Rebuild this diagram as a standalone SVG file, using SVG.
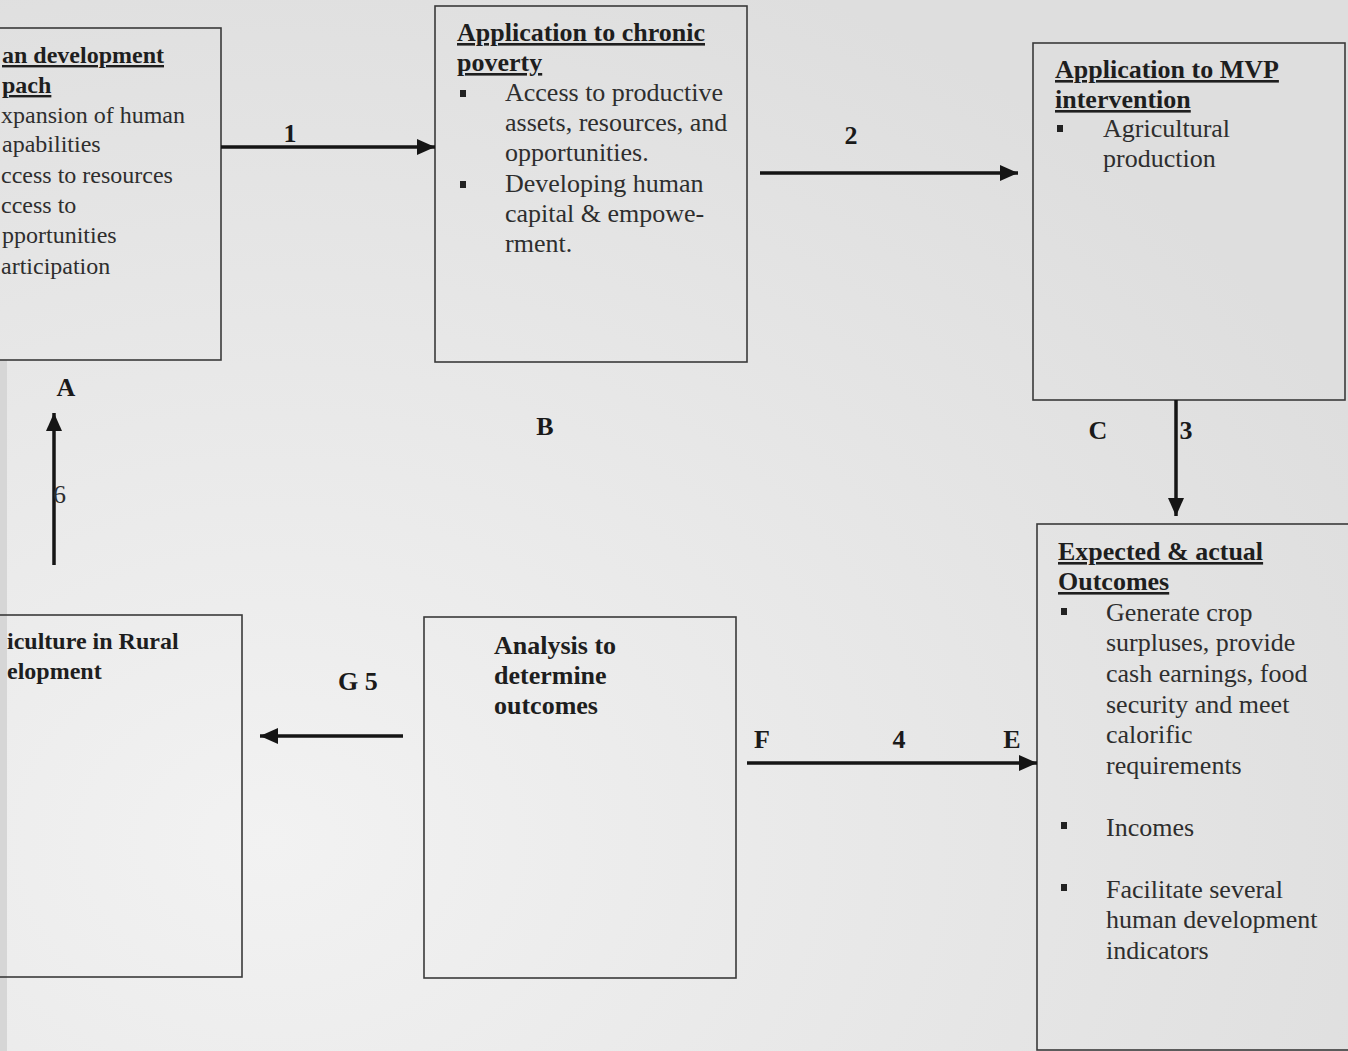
<svg xmlns="http://www.w3.org/2000/svg" width="1348" height="1051" viewBox="0 0 1348 1051">
<defs>
<radialGradient id="bg" cx="0.2" cy="0.8" r="0.9">
<stop offset="0" stop-color="#f2f2f2"/>
<stop offset="0.6" stop-color="#e6e6e6"/>
<stop offset="1" stop-color="#dedede"/>
</radialGradient>
<marker id="ah" markerUnits="userSpaceOnUse" markerWidth="20" markerHeight="16" refX="18" refY="8" orient="auto">
<path d="M0,0 L18,8 L0,16 z" fill="#151515"/>
</marker>
</defs>
<style>
.box{fill:none;stroke:#3a3a3a;stroke-width:1.6}
.h{font-family:"Liberation Serif","Times New Roman",serif;font-weight:bold;fill:#1e1e1e}
.u{text-decoration:underline}
.t{font-family:"Liberation Serif","Times New Roman",serif;fill:#2e2e2e}
.s24{font-size:24px}
.s26{font-size:26px}
.lbl{font-family:"Liberation Serif","Times New Roman",serif;font-weight:bold;font-size:26px;fill:#1a1a1a}
.bul{fill:#222}
.con{stroke:#151515;stroke-width:3.5;fill:none;marker-end:url(#ah)}
</style>
<rect x="0" y="0" width="1348" height="1051" fill="url(#bg)"/>
<rect x="0" y="360" width="7" height="691" fill="#d6d6d6"/>

<g id="node-human-development">
<rect class="box" x="-10" y="28" width="231" height="332"/>
<text class="h u s24" x="2" y="63">an development</text>
<text class="h u s24" x="2" y="93">pach</text>
<text class="t s24" x="1" y="123">xpansion of human</text>
<text class="t s24" x="2" y="152">apabilities</text>
<text class="t s24" x="1" y="183">ccess to resources</text>
<text class="t s24" x="1" y="213">ccess to</text>
<text class="t s24" x="2" y="243">pportunities</text>
<text class="t s24" x="1" y="274">articipation</text>
</g>

<g id="node-chronic-poverty">
<rect class="box" x="435" y="6" width="312" height="356"/>
<text class="h u s26" x="457" y="41">Application to chronic</text>
<text class="h u s26" x="457" y="71">poverty</text>
<rect class="bul" x="460" y="90" width="6" height="7"/>
<text class="t s26" x="505" y="101">Access to productive</text>
<text class="t s26" x="505" y="131">assets, resources, and</text>
<text class="t s26" x="505" y="161">opportunities.</text>
<rect class="bul" x="460" y="181" width="6" height="7"/>
<text class="t s26" x="505" y="192">Developing human</text>
<text class="t s26" x="505" y="222">capital &amp; empowe-</text>
<text class="t s26" x="505" y="252">rment.</text>
</g>

<g id="node-mvp-intervention">
<rect class="box" x="1033" y="43" width="312" height="357"/>
<text class="h u s26" x="1055" y="78">Application to MVP</text>
<text class="h u s26" x="1055" y="108">intervention</text>
<rect class="bul" x="1057" y="125" width="6" height="7"/>
<text class="t s26" x="1103" y="137">Agricultural</text>
<text class="t s26" x="1103" y="167">production</text>
</g>

<g id="node-outcomes">
<rect class="box" x="1037" y="524" width="320" height="526"/>
<text class="h u s26" x="1058" y="560">Expected &amp; actual</text>
<text class="h u s26" x="1058" y="590">Outcomes</text>
<rect class="bul" x="1061" y="608" width="6" height="7"/>
<text class="t s26" x="1106" y="621">Generate crop</text>
<text class="t s26" x="1106" y="651">surpluses, provide</text>
<text class="t s26" x="1106" y="682">cash earnings, food</text>
<text class="t s26" x="1106" y="713">security and meet</text>
<text class="t s26" x="1106" y="743">calorific</text>
<text class="t s26" x="1106" y="774">requirements</text>
<rect class="bul" x="1061" y="822" width="6" height="7"/>
<text class="t s26" x="1106" y="836">Incomes</text>
<rect class="bul" x="1061" y="884" width="6" height="7"/>
<text class="t s26" x="1106" y="898">Facilitate several</text>
<text class="t s26" x="1106" y="928">human development</text>
<text class="t s26" x="1106" y="959">indicators</text>
</g>

<g id="node-analysis">
<rect class="box" x="424" y="617" width="312" height="361"/>
<text class="h s26" x="494" y="654">Analysis to</text>
<text class="h s26" x="494" y="684">determine</text>
<text class="h s26" x="494" y="714">outcomes</text>
</g>

<g id="node-agriculture-rural">
<rect class="box" x="-10" y="615" width="252" height="362"/>
<text class="h s24" x="7" y="649">iculture in Rural</text>
<text class="h s24" x="7" y="679">elopment</text>
</g>

<g id="connectors">
<line class="con" x1="221" y1="147" x2="435" y2="147"/>
<line class="con" x1="760" y1="173" x2="1018" y2="173"/>
<line class="con" x1="1176" y1="400" x2="1176" y2="516"/>
<line class="con" x1="747" y1="763" x2="1037" y2="763"/>
<line class="con" x1="403" y1="736" x2="260" y2="736"/>
<line class="con" x1="54" y1="565" x2="54" y2="413"/>
<text class="lbl" x="290" y="142" text-anchor="middle">1</text>
<text class="lbl" x="851" y="144" text-anchor="middle">2</text>
<text class="lbl" x="66" y="396" text-anchor="middle">A</text>
<text class="lbl" x="545" y="435" text-anchor="middle">B</text>
<text class="lbl" x="1098" y="439" text-anchor="middle">C</text>
<text class="lbl" x="1186" y="439" text-anchor="middle">3</text>
<text class="t s26" x="53" y="503">6</text>
<text class="lbl" x="338" y="690">G 5</text>
<text class="lbl" x="762" y="748" text-anchor="middle">F</text>
<text class="lbl" x="899" y="748" text-anchor="middle">4</text>
<text class="lbl" x="1012" y="748" text-anchor="middle">E</text>
</g>
</svg>
